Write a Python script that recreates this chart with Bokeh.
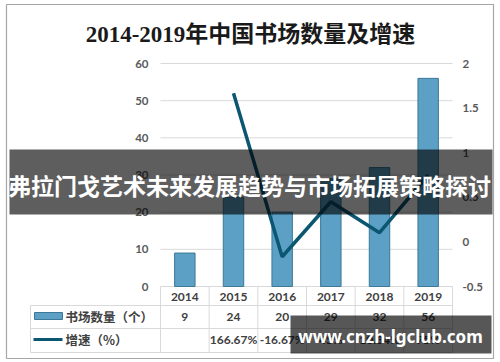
from bokeh.plotting import figure
from bokeh.models import Range1d, ColumnDataSource
from bokeh.core.properties import value
from bokeh.embed import file_html
from bokeh.resources import INLINE

# ---------------- data ----------------
years = ["2014", "2015", "2016", "2017", "2018", "2019"]
counts = [9, 24, 20, 29, 32, 56]
growth_pct = [None, 166.67, -16.67, 45.0, 10.34, 75.0]
left_ticks = [0, 10, 20, 30, 40, 50, 60]
right_ticks = [-0.5, 0, 0.5, 1, 1.5, 2]
title_text = "2014-2019年中国书场数量及增速"
row_labels = ["书场数量（个）", "增速（%）"]
banner_text = "弗拉门戈艺术未来发展趋势与市场拓展策略探讨"
watermark_text = "www.cnzh-lgclub.com"

# ---------------- layout (canvas pixels) ----------------
W, H = 500, 362
PL, PR, PT, PB = 160, 452, 63, 286   # plot area

BAR_FILL = "#5ca0c6"
BAR_LINE = "#3d7896"
LINE_COL = "#0b5670"
GRID = "#d9d9d9"
TXT = "#404040"
TICK = "#595959"
CJK = "Noto Sans CJK SC"
NUMF = "Lato"

idx = list(range(len(years)))
n = len(years)


def lin_range(v_lo, v_hi, lo_px, hi_px, total):
    """range so that v_lo sits at pixel lo_px and v_hi at pixel hi_px"""
    ppu = (hi_px - lo_px) / (v_hi - v_lo)
    start = v_lo - lo_px / ppu
    end = v_hi + (total - hi_px) / ppu
    return Range1d(start, end)


# x: pixels left->right ; y: pixels top->bottom
p = figure(width=W, height=H, x_range=Range1d(0, W), y_range=Range1d(H, 0),
           x_axis_type=None, y_axis_type=None, min_border=0,
           output_backend="svg", toolbar_location=None)
p.outline_line_color = None
p.background_fill_color = "white"
p.border_fill_color = "white"

# data ranges mapped onto the plot area
p.extra_x_ranges = {"cat": lin_range(-0.5, n - 0.5, PL, PR, W)}
p.extra_y_ranges = {
    "count": lin_range(left_ticks[0], left_ticks[-1], H - PB, H - PT, H),
    "g": lin_range(right_ticks[0], right_ticks[-1], H - PB, H - PT, H),
}

# outer frame
p.quad(left=6, right=493, top=4, bottom=358, fill_alpha=0,
       line_color="#a6a6a6", line_width=1.2)

# gridlines
p.segment(x0=[-0.5] * len(left_ticks), x1=[n - 0.5] * len(left_ticks),
          y0=left_ticks, y1=left_ticks, x_range_name="cat", y_range_name="count",
          line_color=GRID, line_width=1)

# left tick labels
p.text(x=[-0.5] * len(left_ticks), y=left_ticks, text=[f"{t:g}" for t in left_ticks],
       x_range_name="cat", y_range_name="count", x_offset=-12,
       text_align="right", text_baseline="middle", text_font=value(NUMF),
       text_font_style="bold", text_font_size=value("11.5px"), text_color=TICK)
# right tick labels
p.text(x=[n - 0.5] * len(right_ticks), y=right_ticks, text=[f"{t:g}" for t in right_ticks],
       x_range_name="cat", y_range_name="g", x_offset=10,
       text_align="left", text_baseline="middle", text_font=value(NUMF),
       text_font_style="bold", text_font_size=value("11.5px"), text_color=TICK)

# bars
src = ColumnDataSource(dict(x=idx, top=counts))
p.vbar(x="x", top="top", width=0.42, bottom=0, source=src,
       x_range_name="cat", y_range_name="count",
       fill_color=BAR_FILL, line_color=BAR_LINE, line_width=1)

# growth line
gx = [i for i, g in zip(idx, growth_pct) if g is not None]
gy = [g / 100 for g in growth_pct if g is not None]
p.line(gx, gy, x_range_name="cat", y_range_name="g", line_color=LINE_COL, line_width=3.5)

# ---------------- data table ----------------
bounds = [i - 0.5 for i in idx] + [n - 0.5]
p.segment(x0=bounds, x1=bounds, y0=[PB] * len(bounds), y1=[352] * len(bounds),
          x_range_name="cat", line_color=GRID, line_width=1)
p.segment(x0=[30, 30, 30, 30], x1=[30, PR, PR, PR], y0=[305, 305, 328, 352],
          y1=[352, 305, 328, 352], line_color=GRID, line_width=1)

# year header
p.text(x=idx, y=[296] * n, text=years, x_range_name="cat",
       text_align="center", text_baseline="middle", text_font=value(NUMF),
       text_font_style="bold", text_font_size=value("12px"), text_color=TXT)

# legend keys
p.quad(left=34, right=62, top=312, bottom=319, fill_color=BAR_FILL, line_color=BAR_LINE)
p.quad(left=33, right=62, top=337.5, bottom=340.5, fill_color=LINE_COL, line_color=None)
p.text(x=[65, 65], y=[316, 339], text=row_labels, text_align="left",
       text_baseline="middle", text_font=value(CJK), text_font_style="bold",
       text_font_size=value("12.5px"), text_color=TXT)

# table values
p.text(x=idx, y=[316] * n, text=[str(c) for c in counts], x_range_name="cat",
       text_align="center", text_baseline="middle", text_font=value(NUMF),
       text_font_style="bold", text_font_size=value("12px"), text_color=TXT)
p.text(x=idx, y=[339] * n, text=["" if g is None else f"{g:g}%" for g in growth_pct],
       x_range_name="cat", text_align="center", text_baseline="middle",
       text_font=value(NUMF), text_font_style="bold", text_font_size=value("12px"),
       text_color=TXT)

# title
p.text(x=[250], y=[34], text=[title_text], text_align="center", text_baseline="middle",
       text_font=value("Liberation Serif, Noto Sans CJK SC"), text_font_style="bold",
       text_font_size=value("23px"), text_color="#1a1a1a")

# ---------------- overlays ----------------
p.quad(left=9, right=492, top=149, bottom=214, fill_color="black", fill_alpha=0.63,
       line_color=None)
p.text(x=[249], y=[184], text=[banner_text], text_align="center", text_baseline="middle",
       text_font=value(CJK), text_font_style="bold", text_font_size=value("23px"),
       text_color="white")

p.quad(left=290, right=491, top=315, bottom=353, fill_color="black", fill_alpha=0.66,
       line_color=None)
p.text(x=[390], y=[336], text=[watermark_text], text_align="center", text_baseline="middle",
       text_font=value("Noto Sans"), text_font_style="bold", text_font_size=value("17px"),
       text_color="white")

open("out.html", "w").write(file_html(p, INLINE))
